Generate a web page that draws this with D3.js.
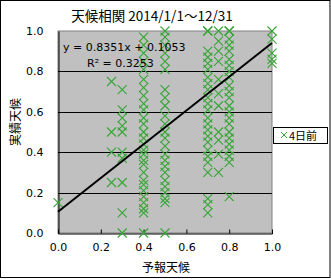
<!DOCTYPE html>
<html>
<head>
<meta charset="utf-8">
<script src="https://cdn.jsdelivr.net/npm/d3@7"></script>
<style>
  body { margin: 0; background: #fff; }
  text { font-family: "Noto Sans CJK JP", "DejaVu Sans", sans-serif; fill: #000; }
</style>
</head>
<body>
<div id="chart"></div>
<script>
(() => {
// forecast levels (x) and the actual values seen at each of them (y)
const forecastLevels = [0.0, 0.25, 0.3, 0.4, 0.5, 0.7, 0.75, 0.8, 1.0];
const actualAtLevel = [
    [0.15],
    [0.75, 0.5, 0.4, 0.25],
    [0.71, 0.61, 0.57, 0.53, 0.5, 0.4, 0.37, 0.25, 0.1, 0.0],
    [0.97, 0.93, 0.89, 0.85, 0.81, 0.76, 0.72, 0.68, 0.64, 0.61, 0.57, 0.54, 0.50, 0.47,
     0.44, 0.41, 0.39, 0.36, 0.34, 0.30, 0.26, 0.24, 0.21, 0.18, 0.15, 0.12, 0.10, 0.0],
    [1.0, 0.97, 0.93, 0.89, 0.85, 0.81, 0.71, 0.67, 0.63, 0.58, 0.54, 0.50, 0.47, 0.43,
     0.39, 0.36, 0.33, 0.30, 0.26, 0.23, 0.20, 0.17, 0.15, 0.0],
    [1.0, 1.0, 0.90, 0.87, 0.84, 0.81, 0.77, 0.74, 0.71, 0.67, 0.64, 0.61, 0.57, 0.54,
     0.51, 0.48, 0.45, 0.41, 0.38, 0.35, 0.30, 0.17, 0.14, 0.10],
    [1.0, 0.95, 0.90, 0.85, 0.76, 0.69, 0.63, 0.50, 0.46, 0.39, 0.30],
    [1.0, 1.0, 0.96, 0.93, 0.90, 0.86, 0.83, 0.80, 0.77, 0.73, 0.70, 0.67, 0.63, 0.60,
     0.57, 0.54, 0.50, 0.47, 0.44, 0.41, 0.38, 0.35, 0.18],
    [1.0, 0.96, 0.89, 0.86, 0.84]
];
const tickValues = [0, 0.2, 0.4, 0.6, 0.8, 1.0];
const trendSlope = 0.8351;
const trendIntercept = 0.1053;
const equationLabel = 'y = 0.8351x + 0.1053';
const r2Label = 'R² = 0.3253';
const titleText = '天候相関 2014/1/1〜12/31';
const seriesName = '4日前';

const W = 331, H = 279;
const plot = { left: 58, top: 31, right: 272, bottom: 233 };
const markerColor = '#36a536';

const points = [];
forecastLevels.forEach((fx, i) => {
    actualAtLevel[i].forEach(v => points.push({ x: fx, y: v }));
});

const svg = d3.select('#chart').append('svg')
    .attr('width', W)
    .attr('height', H);

// outer frame
svg.append('rect')
    .attr('x', 0.5).attr('y', 0.5)
    .attr('width', W - 1.5).attr('height', H - 2)
    .attr('fill', '#fff').attr('stroke', '#000');

const x = d3.scaleLinear().domain([0, 1]).range([plot.left, plot.right]);
const y = d3.scaleLinear().domain([0, 1]).range([plot.bottom, plot.top]);

// plot background
svg.append('rect')
    .attr('x', plot.left).attr('y', plot.top)
    .attr('width', plot.right - plot.left).attr('height', plot.bottom - plot.top)
    .attr('fill', '#c0c0c0')
    .attr('stroke', '#808080');

// gridlines
svg.append('g')
    .selectAll('line')
    .data(tickValues.filter(t => t > 0 && t < 1))
    .enter().append('line')
    .attr('x1', plot.left).attr('x2', plot.right)
    .attr('y1', d => Math.round(y(d)) + 0.5).attr('y2', d => Math.round(y(d)) + 0.5)
    .attr('stroke', '#000');

// axes
const xAxis = svg.append('g')
    .attr('transform', `translate(0,${plot.bottom + 0.5})`)
    .call(d3.axisBottom(x).tickValues(tickValues).tickSize(-4).tickPadding(10).tickFormat(d3.format('.1f')));
const yAxis = svg.append('g')
    .attr('transform', `translate(${plot.left + 0.5},0)`)
    .call(d3.axisLeft(y).tickValues(tickValues).tickSize(0).tickPadding(15).tickFormat(d3.format('.1f')));

[xAxis, yAxis].forEach(a => {
    a.select('.domain').attr('stroke', '#000');
    a.selectAll('.tick line').attr('stroke', '#000');
    a.selectAll('text')
        .style('font-family', '"DejaVu Sans", sans-serif')
        .style('font-size', '11px');
});
xAxis.selectAll('.tick').filter(d => d === 0 || d === 1).select('line').remove();

// markers (x shapes)
const half = 4.5;
const marks = svg.append('g');
marks.selectAll('path')
    .data(points)
    .enter().append('path')
    .attr('d', d => {
        const cx = x(d.x), cy = y(d.y);
        return `M${cx - half},${cy - half}L${cx + half},${cy + half}M${cx - half},${cy + half}L${cx + half},${cy - half}`;
    })
    .attr('stroke', markerColor)
    .attr('stroke-width', 1.1)
    .attr('fill', 'none');

// trend line
svg.append('line')
    .attr('x1', x(0)).attr('y1', y(trendIntercept))
    .attr('x2', x(1)).attr('y2', y(trendSlope + trendIntercept))
    .attr('stroke', '#000')
    .attr('stroke-width', 2);

// equation labels
svg.append('text').attr('x', 63).attr('y', 51)
    .style('font-family', '"DejaVu Sans", sans-serif').style('font-size', '11px')
    .text(equationLabel);
svg.append('text').attr('x', 87).attr('y', 67)
    .style('font-family', '"DejaVu Sans", sans-serif').style('font-size', '11px')
    .text(r2Label);

// title
svg.append('text')
    .attr('x', 152).attr('y', 21)
    .attr('text-anchor', 'middle')
    .style('font-size', '13.5px')
    .text(titleText);

// axis titles
svg.append('text')
    .attr('x', 166).attr('y', 272)
    .attr('text-anchor', 'middle')
    .style('font-size', '12px')
    .text('予報天候');
svg.append('text')
    .attr('transform', 'translate(20,122) rotate(-90)')
    .attr('text-anchor', 'middle')
    .style('font-size', '12px')
    .text('実績天候');

// legend
const legend = svg.append('g').attr('transform', 'translate(273,127)');
legend.append('rect')
    .attr('x', 0.5).attr('y', 0.5)
    .attr('width', 54).attr('height', 16)
    .attr('fill', '#fff').attr('stroke', '#000');
legend.append('path')
    .attr('d', 'M8,5L14,11M8,11L14,5')
    .attr('stroke', markerColor)
    .attr('fill', 'none');
legend.append('text')
    .attr('x', 16).attr('y', 13)
    .style('font-size', '11px')
    .text(seriesName);
})();
</script>
</body>
</html>
